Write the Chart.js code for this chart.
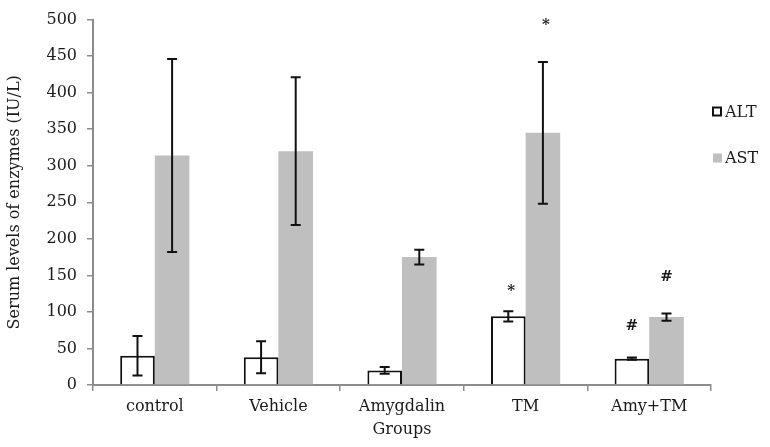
<!DOCTYPE html>
<html><head><meta charset="utf-8">
<script src="https://cdn.jsdelivr.net/npm/chart.js@4"></script>
<style>html,body{margin:0;padding:0;background:#fff}</style>
</head><body>
<canvas id="c" width="770" height="447"></canvas>
<script>
const categories = ['control', 'Vehicle', 'Amygdalin', 'TM', 'Amy+TM'];
const altValues = [40, 38, 20, 94, 36];
const altErrors = [27, 22, 4.5, 7, 1.5];
const astValues = [314, 320, 175, 345, 93];
const astErrors = [132, 101, 10, 97, 5];
const yTicks = [0, 50, 100, 150, 200, 250, 300, 350, 400, 450, 500];
const altMarks = ['', '', '', '*', '#'];
const altMarkLevels = [null, null, null, 132, 80];
const astMarks = ['', '', '', '*', '#'];
const astMarkLevels = [null, null, null, 497, 148];

const FONT = "'DejaVu Serif', 'Liberation Serif', serif";
const errorsByDataset = [altErrors, astErrors];
const marksByDataset = [altMarks, astMarks];
const markLevelsByDataset = [altMarkLevels, astMarkLevels];

const errorBarPlugin = {
  id: 'errorBars',
  afterDatasetsDraw(chart) {
    const ctx = chart.ctx;
    const y = chart.scales.y;
    chart.data.datasets.forEach((ds, d) => {
      const meta = chart.getDatasetMeta(d);
      const errs = errorsByDataset[d];
      meta.data.forEach((bar, i) => {
        const v = ds.data[i], e = errs[i];
        const x = bar.x;
        const yt = y.getPixelForValue(v + e);
        const yb = y.getPixelForValue(v - e);
        ctx.save();
        ctx.strokeStyle = '#111';
        ctx.lineWidth = 2;
        ctx.beginPath();
        ctx.moveTo(x, yt); ctx.lineTo(x, yb);
        ctx.moveTo(x - 5, yt); ctx.lineTo(x + 5, yt);
        ctx.moveTo(x - 5, yb); ctx.lineTo(x + 5, yb);
        ctx.stroke();
        const m = marksByDataset[d][i];
        const lvl = markLevelsByDataset[d][i];
        if (m && lvl != null) {
          ctx.fillStyle = '#1a1a1a';
          ctx.font = 'bold 15px ' + FONT;
          ctx.textAlign = 'center';
          ctx.textBaseline = 'middle';
          ctx.fillText(m, x + (m === '*' ? 3 : 0), y.getPixelForValue(lvl) + (m === '*' ? 3 : 0));
        }
        ctx.restore();
      });
    });
  }
};

const legendPlugin = {
  id: 'customLegend',
  afterDraw(chart) {
    const ctx = chart.ctx;
    const items = chart.data.datasets;
    const ys = [111.5, 158];
    ctx.save();
    items.forEach((ds, i) => {
      const yc = ys[i];
      if (i === 0) {
        ctx.strokeStyle = ds.borderColor;
        ctx.lineWidth = 2;
        ctx.strokeRect(713, yc - 4, 8, 8);
      } else {
        ctx.fillStyle = ds.backgroundColor;
        ctx.fillRect(713, yc - 4.5, 9, 9);
      }
      ctx.fillStyle = '#1a1a1a';
      ctx.font = '16px ' + FONT;
      ctx.textAlign = 'left';
      ctx.textBaseline = 'middle';
      ctx.fillText(ds.label, 725, yc + 1);
    });
    ctx.restore();
  }
};

new Chart(document.getElementById('c'), {
  type: 'bar',
  data: {
    labels: categories,
    datasets: [
      { label: 'ALT', data: altValues, backgroundColor: '#ffffff', borderColor: '#111111', borderWidth: 2,
        categoryPercentage: 0.56, barPercentage: 1.0 },
      { label: 'AST', data: astValues, backgroundColor: '#bfbfbf', borderWidth: 0,
        categoryPercentage: 0.56, barPercentage: 1.0 }
    ]
  },
  options: {
    responsive: false,
    animation: false,
    devicePixelRatio: 1,
    layout: { padding: { top: 12, right: 59, bottom: 0, left: 0 } },
    plugins: { legend: { display: false }, tooltip: { enabled: false } },
    scales: {
      x: {
        afterFit(s) { s.height = 62; },
        grid: { display: true, drawOnChartArea: false, drawTicks: true, tickLength: 6, color: '#8c8c8c', lineWidth: 1.5, offset: true },
        border: { display: true, color: '#8c8c8c', width: 2 },
        ticks: { color: '#1a1a1a', font: { family: FONT, size: 16 }, padding: 6, maxRotation: 0 },
        title: { display: true, text: 'Groups', color: '#1a1a1a', font: { family: FONT, size: 16 }, padding: { top: 0, bottom: 8 } }
      },
      y: {
        min: 0, max: 500,
        afterFit(s) { s.width = 93; },
        afterBuildTicks(s) { s.ticks = yTicks.map(v => ({ value: v })); },
        grid: { display: true, drawOnChartArea: false, drawTicks: true, tickLength: 6, color: '#8c8c8c', lineWidth: 1.5 },
        border: { display: true, color: '#8c8c8c', width: 2 },
        ticks: { color: '#1a1a1a', font: { family: FONT, size: 16 }, padding: 10 },
        title: { display: true, text: 'Serum levels of enzymes (IU/L)', color: '#1a1a1a', font: { family: FONT, size: 16 }, padding: { top: 5, bottom: 0 } }
      }
    }
  },
  plugins: [errorBarPlugin, legendPlugin]
});
</script>
</body></html>
